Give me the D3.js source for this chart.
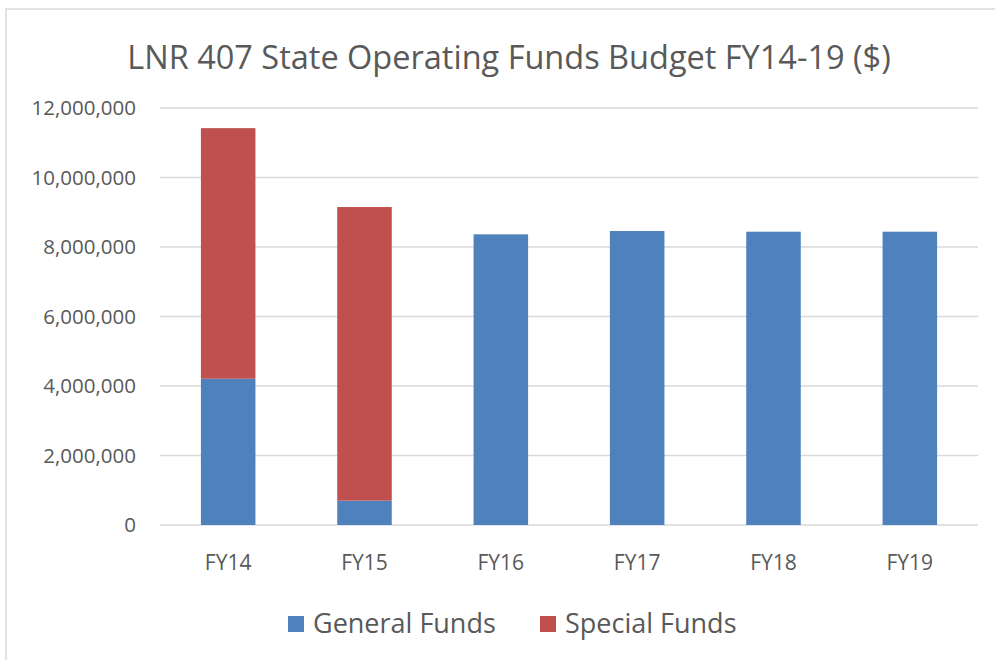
<!DOCTYPE html>
<html>
<head>
<meta charset="utf-8">
<script src="https://cdn.jsdelivr.net/npm/d3@7"></script>
<style>
  body { margin: 0; background: #fff; }
  svg text { font-family: "Open Sans", "Noto Sans", sans-serif; fill: #595959; }
</style>
</head>
<body>
<svg id="chart" width="995" height="660"></svg>
<script>
// Budget by fiscal year
const years = ['FY14', 'FY15', 'FY16', 'FY17', 'FY18', 'FY19'];
const generalFunds = [4210000, 700000, 8365000, 8460000, 8440000, 8440000];
const specialFunds = [7210000, 8450000, 0, 0, 0, 0];
const seriesNames = ['General Funds', 'Special Funds'];
const yTicks = [0, 2000000, 4000000, 6000000, 8000000, 10000000, 12000000];

const colors = { 'General Funds': '#4F81BD', 'Special Funds': '#C0504D' };

const svg = d3.select('#chart');

// outer frame
svg.append('rect')
    .attr('x', 6).attr('y', 9)
    .attr('width', 1000).attr('height', 700)
    .attr('fill', 'none')
    .attr('stroke', '#D9D9D9')
    .attr('stroke-width', 1.5);

const margin = { left: 160, right: 17, top: 108, bottom: 135 };
const width = 995 - margin.left - margin.right;
const height = 660 - margin.top - margin.bottom;

const g = svg.append('g').attr('transform', `translate(${margin.left},${margin.top})`);

const x = d3.scaleBand()
    .domain(years)
    .range([0, width])
    .paddingInner(0.6)
    .paddingOuter(0.3);

const y = d3.scaleLinear()
    .domain([0, 12000000])
    .range([height, 0]);

// gridlines
g.append('g')
    .selectAll('line')
    .data(yTicks)
    .join('line')
    .attr('x1', 0).attr('x2', width)
    .attr('y1', d => y(d)).attr('y2', d => y(d))
    .attr('stroke', '#D9D9D9')
    .attr('stroke-width', 1.3);

// y axis labels
const fmt = d3.format(',');
g.append('g')
    .call(d3.axisLeft(y).tickValues(yTicks).tickFormat(d => fmt(d)).tickSize(0).tickPadding(24))
    .call(a => a.select('.domain').remove())
    .selectAll('text')
    .style('font-size', '20.5px')
    .attr('fill', '#595959');

// x axis labels
g.append('g')
    .attr('transform', `translate(0,${height})`)
    .call(d3.axisBottom(x).tickSize(0).tickPadding(30))
    .call(a => a.select('.domain').remove())
    .selectAll('text')
    .style('font-size', '21px')
    .attr('fill', '#595959');

// stacked bars
const rows = years.map((yr, i) => ({ year: yr, 'General Funds': generalFunds[i], 'Special Funds': specialFunds[i] }));
const stacked = d3.stack().keys(seriesNames)(rows);

g.append('g')
    .selectAll('g')
    .data(stacked)
    .join('g')
    .attr('fill', d => colors[d.key])
    .selectAll('rect')
    .data(d => d.filter(p => p[1] > p[0]))
    .join('rect')
    .attr('x', d => x(d.data.year))
    .attr('y', d => y(d[1]))
    .attr('width', x.bandwidth())
    .attr('height', d => y(d[0]) - y(d[1]));

// title
svg.append('text')
    .attr('x', 509)
    .attr('y', 69)
    .attr('text-anchor', 'middle')
    .style('font-size', '32.5px')
    .text('LNR 407 State Operating Funds Budget FY14-19 ($)');

// legend
const legend = svg.append('g').attr('transform', 'translate(288,624)');
const legendX = [0, 252];
seriesNames.forEach((name, i) => {
    const item = legend.append('g').attr('transform', `translate(${legendX[i]},0)`);
    item.append('rect')
        .attr('x', 0).attr('y', -8)
        .attr('width', 16).attr('height', 16)
        .attr('fill', colors[name]);
    item.append('text')
        .attr('x', 25)
        .attr('dy', '0.35em')
        .style('font-size', '27px')
        .text(name);
});
</script>
</body>
</html>
